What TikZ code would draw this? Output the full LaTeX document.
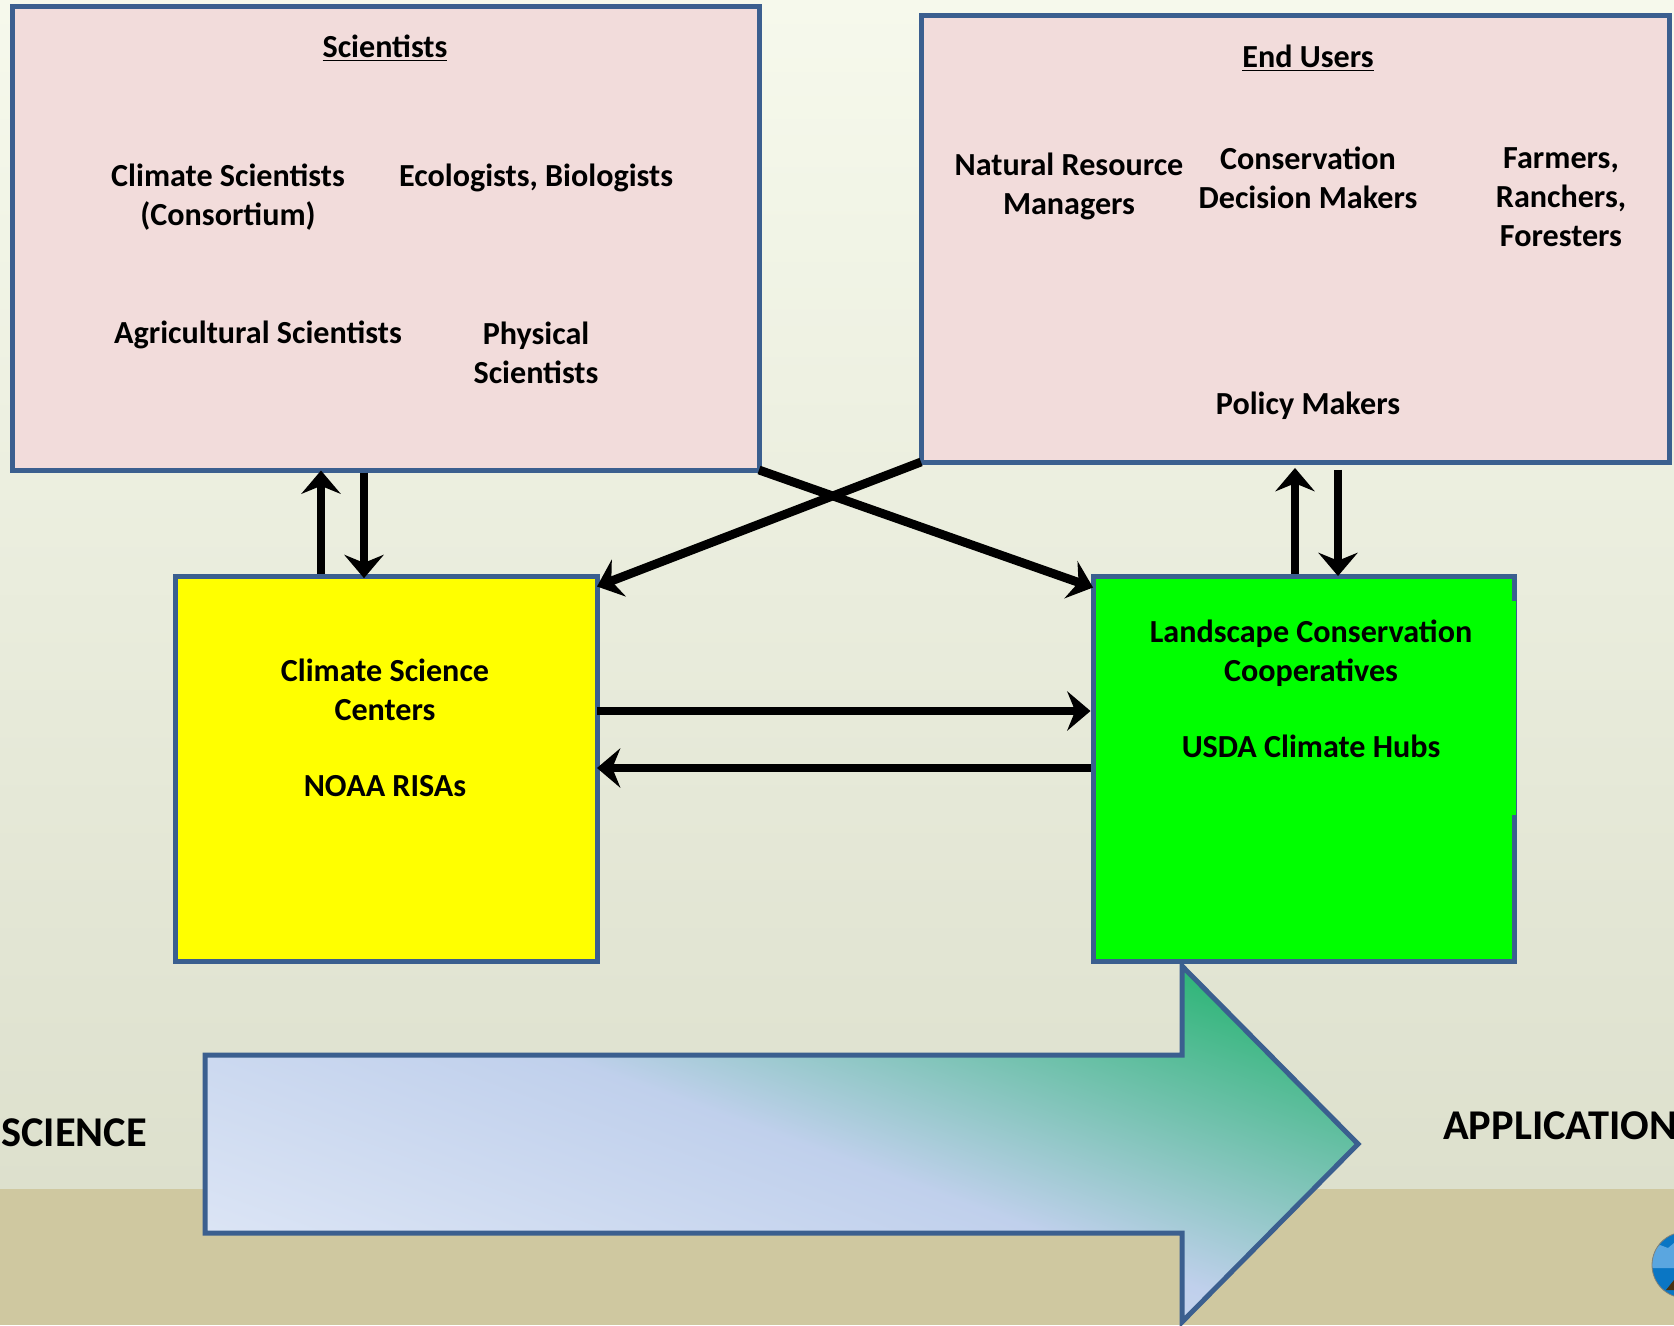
\documentclass[tikz,border=0pt]{standalone}
\usepackage{fontspec}
\setmainfont{Carlito}
\usetikzlibrary{arrows.meta}
\definecolor{edgeblue}{RGB}{59,95,143}
\definecolor{panelpink}{RGB}{242,220,219}
\definecolor{groundtan}{RGB}{207,200,160}
\definecolor{cscyellow}{RGB}{255,255,0}
\definecolor{lccgreen}{RGB}{0,255,0}
\definecolor{arrowpale}{RGB}{220,229,245}
\definecolor{arrowblue}{RGB}{192,208,236}
\definecolor{arrowgreen}{RGB}{46,181,119}
\pgfdeclareverticalshading{sciapp}{100bp}{
	color(0bp)=(arrowpale);
	color(38bp)=(arrowpale);
	color(50.3bp)=(arrowblue);
	color(62.7bp)=(arrowgreen);
	color(100bp)=(arrowgreen)}
\tikzset{
	panel/.style={
		draw=edgeblue,
		line width=3.75pt,
		rectangle,
		inner sep=0pt},
	flow/.style={
		line width=6.6pt,
		-{Stealth[length=17.5pt,width=29.5pt,inset=6pt]}},
	txt/.style={
		font=\fontsize{24.1}{29.2}\selectfont\bfseries,
		align=center,
		inner sep=0pt},
	bigtxt/.style={
		font=\fontsize{31.8}{37}\selectfont\bfseries,
		anchor=west,
		inner sep=0pt}
}
\begin{document}
\begin{tikzpicture}[x=0.75pt,y=0.75pt,yscale=-1,xscale=1]
\useasboundingbox (0,0) rectangle (1674,1325);

% backdrop
\shade [top color={rgb,255:red,246;green,249;blue,236}, bottom color={rgb,255:red,221;green,224;blue,205}] (0,0) rectangle (1674,1189);
\fill [groundtan] (0,1189) rectangle (1674,1325);

% globe at the page edge
\begin{scope}
	\clip (1685,1265) circle [radius=33];
	\fill [color={rgb,255:red,10;green,118;blue,196}] (1650,1230) rectangle (1674,1300);
	\fill [color={rgb,255:red,90;green,166;blue,224}] (1650,1262) -- (1650,1252) -- (1660,1245) -- (1668,1248) -- (1674,1243) -- (1674,1268) -- (1650,1268) -- cycle;
	\fill [color={rgb,255:red,70;green,50;blue,20}] (1666,1290) -- (1674,1280) -- (1674,1290) -- cycle;
\end{scope}
\draw [color={rgb,255:red,130;green,130;blue,120}, line width=0.6pt] (1685,1265) circle [radius=33];

% boxes
\node (sci) [panel, fill=panelpink, minimum width=560.25pt, minimum height=348pt] at (385.5,238) {};
\node (end) [panel, fill=panelpink, minimum width=561pt, minimum height=335.25pt] at (1295,238.5) {};
\node (csc) [panel, fill=cscyellow, minimum width=316.5pt, minimum height=288.75pt] at (386,768.5) {};
\node (lcc) [panel, fill=lccgreen, minimum width=316.1pt, minimum height=288.75pt] at (1303.75,768.5) {};
\fill [lccgreen] (1510,601) rectangle (1515.5,815);

% arrow along the bottom
\begin{scope}
	\clip (205,1055) -- (1182,1055) -- (1182,966) -- (1358,1144) -- (1182,1322) -- (1182,1233) -- (205,1233) -- cycle;
	\shade [shading=sciapp, shading angle=-20] (180,544) rectangle (1380,1744);
\end{scope}
\draw [edgeblue, line width=3.75pt] (205,1055) -- (1182,1055) -- (1182,966) -- (1358,1144) -- (1182,1322) -- (1182,1233) -- (205,1233) -- cycle;

% connectors
\coordinate (cscup) at (321,0);
\coordinate (cscdn) at (364,0);
\coordinate (lccup) at (1295,0);
\coordinate (lccdn) at (1338,0);
\coordinate (laneA) at (0,711);
\coordinate (laneB) at (0,768);

\draw [flow, shorten >=-1.5pt] (cscup |- csc.north) -- (cscup |- sci.south);
\draw [flow, shorten >=-3.5pt] (cscdn |- sci.south) -- (cscdn |- csc.north);
\draw [flow, shorten >=2.6pt] (lccup |- lcc.north) -- (lccup |- end.south);
\draw [flow, shorten >=-1.9pt, shorten <=4pt] (lccdn |- end.south) -- (lccdn |- lcc.north);
\draw [flow] ([shift={(-2.5,-2.5)}]sci.south east) -- ([shift={(2.5,14)}]lcc.north west);
\draw [flow] ([shift={(2.5,-2.5)}]end.south west) -- ([shift={(-2.5,13)}]csc.north east);
\draw [flow, shorten <=-1.9pt] (laneA -| csc.east) -- (laneA -| lcc.west);
\draw [flow, shorten >=-1.9pt] (laneB -| lcc.west) -- (laneB -| csc.east);

% texts
\node (scihead) [txt] at (385,48) {\underline{Scientists}};
\node (climsci) [txt] at (228,197) {Climate Scientists\\(Consortium)};
\node (ecobio) [txt] at (536,178) {Ecologists, Biologists};
\node (agsci) [txt] at (258,335) {Agricultural Scientists};
\node (physsci) [txt] at (536,353) {Physical\\Scientists};

\node (endhead) [txt] at (1308,58) {\underline{End Users}};
\node (natres) [txt] at (1069,186) {Natural Resource\\Managers};
\node (consdec) [txt] at (1308,178) {Conservation\\Decision Makers};
\node (farmers) [txt] at (1561,197) {Farmers,\\Ranchers,\\Foresters};
\node (policy) [txt] at (1308,406) {Policy Makers};

\node (csctxt) [txt] at (385,728) {Climate Science\\Centers\\[27.6pt]NOAA RISAs};
\node (lcctxt) [txt] at (1311,689) {Landscape Conservation\\Cooperatives\\[27.6pt]USDA Climate Hubs};

\node (science) [bigtxt] at (1,1133) {SCIENCE};
\node (applic) [bigtxt] at (1443,1126) {APPLICATION};

\end{tikzpicture}
\end{document}
